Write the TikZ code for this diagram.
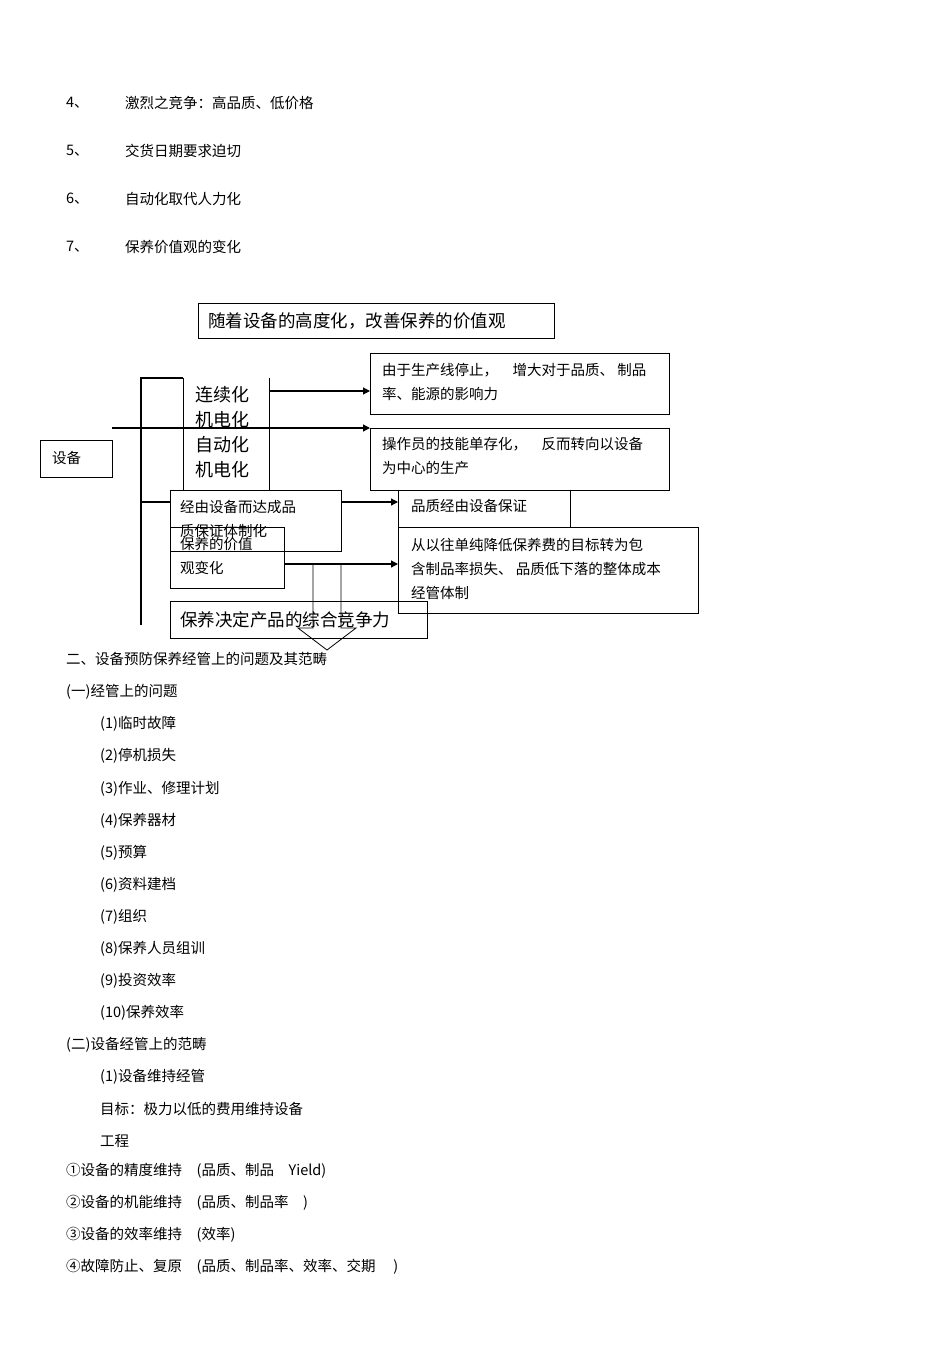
\documentclass[tikz,border=0pt]{standalone}
\usepackage{fontspec}
\setmainfont{Noto Sans CJK SC}
\usetikzlibrary{arrows.meta}
\begin{document}
\begin{tikzpicture}[x=1bp,y=-1bp,
  t/.style={anchor=west,inner sep=0pt,font=\fontsize{14.5bp}{18bp}\selectfont},
  bx/.style={draw,line width=0.8pt},
  ln/.style={line width=1.2pt},
  ar/.style={line width=1.2pt,-{Triangle[length=7bp,width=7bp]}},
  big/.style={anchor=west,inner sep=0pt,align=left,font=\fontsize{18bp}{25bp}\selectfont},
  sm/.style={anchor=west,inner sep=0pt,align=left,font=\fontsize{14.5bp}{24bp}\selectfont}]
\useasboundingbox (0,0) rectangle (950,1345);
% top list
\foreach \n/\s/\y in {4/激烈之竞争：高品质、低价格/103,5/交货日期要求迫切/151,6/自动化取代人力化/199,7/保养价值观的变化/247}{
  \node[t] (n\n) at (66,\y) {\n、};
  \node[t] (s\n) at (125,\y) {\s};
}
% diagram
\draw[bx] (198,303) rectangle (554,338);
\node[anchor=west,inner sep=0pt,font=\fontsize{17.5bp}{20bp}\selectfont] (title) at (208,321) {随着设备的高度化，改善保养的价值观};
\draw[bx] (370,353) rectangle (669,414);
\node[sm] (b1) at (382,382) {由于生产线停止，\quad 增大对于品质、\ 制品\\率、能源的影响力};
\draw[bx] (370,428) rectangle (669,490);
\node[sm] (b2) at (382,456) {操作员的技能单存化，\quad 反而转向以设备\\为中心的生产};
\draw[bx] (40,440) rectangle (112,477);
\node[t] (sb) at (52,458) {设备};
\draw[ln] (141,625) -- (141,378) -- (183,378);
\draw[bx] (183,378) -- (183,490);
\draw[bx] (269,378) -- (269,490);
\node[big] (lx) at (195,407) {连续化\\机电化};
\node[big] (zd) at (195,457) {自动化\\机电化};
\coordinate (l0) at (112,428);
\draw[ar] (l0) -- (370,428);
\draw[ar] (269,391) -- (370,391);
\draw[bx] (398,490) -- (570,490) -- (570,527);
\draw[bx] (398,490) -- (398,527);
\node[t] (pz) at (411,506) {品质经由设备保证};
\draw[bx] (398,527) rectangle (698,613);
\node[sm] (cy) at (411,569) {从以往单纯降低保养费的目标转为包\\含制品率损失、\ 品质低下落的整体成本\\经管体制};
\draw[ln] (141,502) -- (170,502);
\draw[ar] (341,502) -- (398,502);
\draw[ar] (284,564) -- (398,564);
\draw[bx] (170,490) rectangle (341,551);
\node[sm] (jy) at (180,519) {经由设备而达成品\\质保证体制化};
\draw[bx] (170,527) rectangle (284,588);
\node[sm] (by) at (180,556) {保养的价值\\观变化};
\draw[bx] (313,564) -- (313,628) -- (298,628) -- (327,650) -- (356,628) -- (341,628) -- (341,564);
\draw[bx] (170,601) rectangle (427,638);
\node[anchor=west,inner sep=0pt,font=\fontsize{17.5bp}{20bp}\selectfont] (bj) at (180,620) {保养决定产品的综合竞争力};
% lower text
\node[t] (h2) at (66,659) {二、设备预防保养经管上的问题及其范畴};
\node[t] (h21) at (66,692) {(一)经管上的问题};
\foreach \i/\s/\y in {1/临时故障/724,2/停机损失/756,3/作业、修理计划/789,4/保养器材/821,5/预算/853,6/资料建档/885,7/组织/917,8/保养人员组训/949,9/投资效率/981,10/保养效率/1013}{
  \node[t] (p\i) at (100,\y) {(\i)\s};
}
\node[t] (h22) at (66,1045) {(二)设备经管上的范畴};
\node[t] (q1) at (100,1077) {(1)设备维持经管};
\node[t] (q2) at (100,1109) {目标：极力以低的费用维持设备};
\node[t] (q3) at (100,1141) {工程};
\node[t] (c1) at (66,1171) {①设备的精度维持\quad (品质、制品\quad Yield)};
\node[t] (c2) at (66,1203) {②设备的机能维持\quad (品质、制品率\quad )};
\node[t] (c3) at (66,1235) {③设备的效率维持\quad (效率)};
\node[t] (c4) at (66,1267) {④故障防止、复原\quad (品质、制品率、效率、交期\quad\ )};
\end{tikzpicture}
\end{document}
